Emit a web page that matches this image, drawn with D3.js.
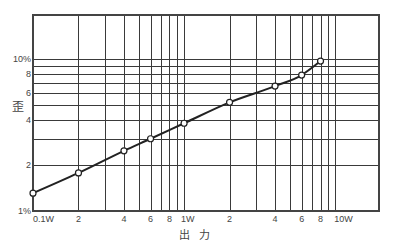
<!DOCTYPE html>
<html><head><meta charset="utf-8">
<script src="https://cdn.jsdelivr.net/npm/d3@7"></script>
<style>
html,body{margin:0;padding:0;background:#fff;}
svg{display:block;}
text{font-family:"Liberation Sans","DejaVu Sans",sans-serif;fill:#444;}
</style></head>
<body>
<script>
const power = [0.1, 0.2, 0.4, 0.6, 1, 2, 4, 6, 8];
const distortion = [1.31, 1.78, 2.49, 2.99, 3.78, 5.19, 6.64, 7.85, 9.7];
const xGrid = [0.2,0.3,0.4,0.5,0.6,0.7,0.8,0.9,1,2,3,4,5,6,7,8,9,10];
const yGrid = [2,3,4,5,6,7,8,9,10];
const xTickValues = [0.1,0.2,0.4,0.6,0.8,1,2,4,6,8,10];
const xTickLabels = ["0.1W","2","4","6","8","1W","2","4","6","8","10W"];
const yTickValues = [1,2,4,6,8,10];
const yTickLabels = ["1%","2","4","6","8","10%"];
const yTitle = "歪";
const xTitle = "出力";

const W = 400, H = 246;
const L = 33, R = 379, T = 15, B = 211;
const svg = d3.select("body").append("svg").attr("width", W).attr("height", H);
const x = d3.scaleLog().domain([0.1, 19.5]).range([L, R]);
const y = d3.scaleLog().domain([1, 19.5]).range([B, T]);

const g = svg.append("g");
g.selectAll("line.vg").data(xGrid).join("line")
  .attr("x1", d => Math.round(x(d)) + 0.5).attr("x2", d => Math.round(x(d)) + 0.5).attr("y1", T).attr("y2", B)
  .attr("stroke", "#3a3a3a").attr("stroke-width", 1);
g.selectAll("line.hg").data(yGrid).join("line")
  .attr("y1", d => Math.round(y(d)) + 0.5).attr("y2", d => Math.round(y(d)) + 0.5).attr("x1", L).attr("x2", R)
  .attr("stroke", "#3a3a3a").attr("stroke-width", 1);
g.append("rect").attr("x", L).attr("y", T).attr("width", R - L).attr("height", B - T)
  .attr("fill", "none").attr("stroke", "#444").attr("stroke-width", 2);

// x tick labels
const xOff = {"0.1W": 0, "1W": -3, "10W": -1};
g.selectAll("text.xt").data(xTickValues).join("text")
  .attr("x", (d, i) => xTickLabels[i] in xOff ? x(d) + xOff[xTickLabels[i]] : x(d))
  .attr("y", 222)
  .attr("text-anchor", (d, i) => xTickLabels[i] in xOff ? "start" : "middle")
  .attr("font-size", 9)
  .text((d, i) => xTickLabels[i]);
g.selectAll("text.yt").data(yTickValues).join("text")
  .attr("x", 31).attr("y", d => y(d) + 3)
  .attr("text-anchor", "end").attr("font-size", 9)
  .text((d, i) => yTickLabels[i]);

svg.append("text").attr("x", 18).attr("y", 111).attr("text-anchor", "middle")
  .attr("font-size", 12).style("font-family", "'Noto Sans CJK JP'").text(yTitle);
svg.append("text").attr("x", 199).attr("y", 239).attr("text-anchor", "middle")
  .attr("font-size", 11).attr("letter-spacing", 9)
  .style("font-family", "'Noto Sans CJK JP'").text(xTitle);

const pts = power.map((p, i) => [p, distortion[i]]);
svg.append("path").datum(pts)
  .attr("d", d3.line().x(d => x(d[0])).y(d => y(d[1])).curve(d3.curveMonotoneX))
  .attr("fill", "none").attr("stroke", "#222").attr("stroke-width", 2);
svg.selectAll("circle").data(pts).join("circle")
  .attr("cx", d => x(d[0])).attr("cy", d => y(d[1])).attr("r", 3)
  .attr("fill", "#fff").attr("stroke", "#222").attr("stroke-width", 1.2);
</script>
</body></html>
